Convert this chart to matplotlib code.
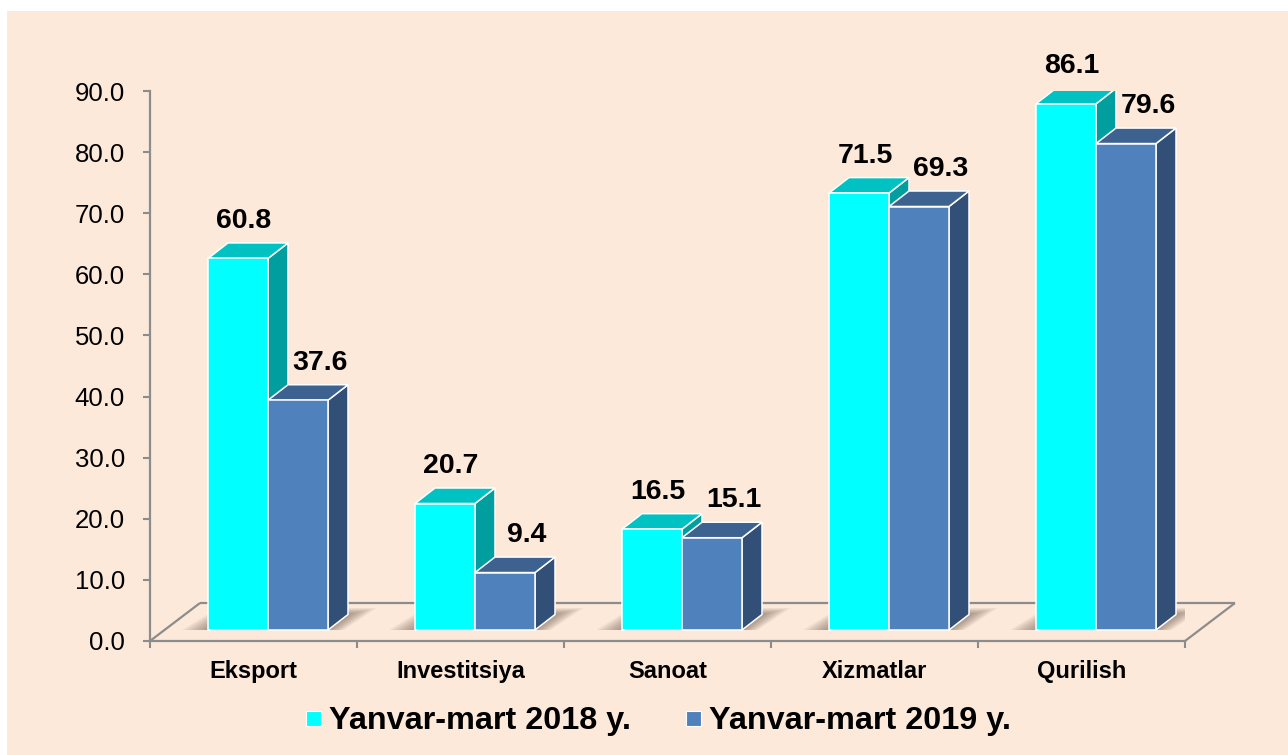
#Pseudo-3D clustered bar chart: Yanvar-mart 2018 vs 2019
import matplotlib
matplotlib.use("Agg")
import matplotlib.pyplot as plt
from matplotlib.patches import Polygon, Rectangle
from matplotlib.lines import Line2D
import numpy as np

categories = ["Eksport", "Investitsiya", "Sanoat", "Xizmatlar", "Qurilish"]
values_2018 = [60.8, 20.7, 16.5, 71.5, 86.1]
values_2019 = [37.6, 9.4, 15.1, 69.3, 79.6]
series_names = ["Yanvar-mart 2018 y.", "Yanvar-mart 2019 y."]
y_ticks = np.arange(0, 91, 10)

plt.rcParams["font.family"] = ["Liberation Sans", "DejaVu Sans"]

W, H = 1288, 755
# pixel frame of the value axes (front plane of the floor)
ax_l, ax_r, ax_b, ax_t = 150, 1185, 641, 91
n = len(categories)
ymax = 90.0
sx = n / (ax_r - ax_l)        # data units per pixel, x
sy = ymax / (ax_b - ax_t)     # data units per pixel, y

# colours: front, top, side
face_2018 = ("#00FFFF", "#00C2C2", "#009E9E")
face_2019 = ("#4F81BD", "#3E6290", "#314F77")
grid_col = "#8C8C8C"
bg_col = "#FDE9DA"

fig = plt.figure(figsize=(W / 100, H / 100), dpi=100, facecolor="white")
fig.patches.append(Rectangle((7 / W, 0), 1 - 7 / W, 1 - 11 / H, transform=fig.transFigure,
                             facecolor=bg_col, edgecolor="none", zorder=-10))

ax = fig.add_axes([ax_l / W, 1 - ax_b / H, (ax_r - ax_l) / W, (ax_b - ax_t) / H])
ax.set_facecolor("none")
ax.set_xlim(-0.5, n - 0.5)
ax.set_ylim(0, ymax)

# depth geometry in pixels, turned into data units
floor_dx, floor_dy = 50 * sx, 38 * sy
off_x, off_y = 14.5 * sx, 11 * sy       # bars sit a bit back on the floor
bar_dx, bar_dy = 20 * sx, 15.5 * sy     # bar depth
bar_w = 60 * sx

# floor outline
fx0, fx1 = -0.5, n - 0.5
for xs, ys in [([fx0 + floor_dx, fx1 + floor_dx], [floor_dy, floor_dy]),
               ([fx0, fx0 + floor_dx], [0, floor_dy]),
               ([fx1, fx1 + floor_dx], [0, floor_dy])]:
    ax.plot(xs, ys, color=grid_col, lw=1.6, clip_on=False, zorder=1, solid_capstyle="butt")


def draw_bar(x0, v, cols):
    x1 = x0 + bar_w
    y0, y1 = off_y, v + off_y
    front = [(x0, y0), (x1, y0), (x1, y1), (x0, y1)]
    top = [(x0, y1), (x1, y1), (x1 + bar_dx, y1 + bar_dy), (x0 + bar_dx, y1 + bar_dy)]
    side = [(x1, y0), (x1 + bar_dx, y0 + bar_dy), (x1 + bar_dx, y1 + bar_dy), (x1, y1)]
    for pts, c in [(side, cols[2]), (top, cols[1]), (front, cols[0])]:
        ax.add_patch(Polygon(pts, closed=True, facecolor=c, edgecolor="white",
                             lw=1.1, joinstyle="miter", zorder=5))


def draw_shadow(x0, x1):
    # soft shadow on the floor around the foot of a bar pair
    y_lo, y_hi = off_y, off_y + bar_dy
    for k in range(1, 11):
        g = k * 2.6
        pts = [(x0 - g * sx, y_lo),
               (x1 + g * 0.6 * sx, y_lo),
               (x1 + bar_dx + g * 1.1 * sx, y_hi + g * 0.25 * sy),
               (x0 + bar_dx - g * 0.4 * sx, y_hi + g * 0.25 * sy)]
        ax.add_patch(Polygon(pts, closed=True, facecolor="#4a3a30", edgecolor="none",
                             alpha=0.055, zorder=2))


centers = np.arange(n)
for i, c in enumerate(centers):
    left = c - bar_w + off_x
    draw_shadow(left, left + 2 * bar_w)
    draw_bar(left, values_2018[i], face_2018)
    draw_bar(left + bar_w, values_2019[i], face_2019)
    ax.annotate(f"{values_2018[i]:.1f}", xy=(left + bar_w / 2, values_2018[i] + off_y + bar_dy),
                xytext=(6 / 1.389, 22 / 1.389), textcoords="offset points",
                ha="center", va="center", fontsize=20.5, fontweight="bold", zorder=6,
                annotation_clip=False)
    ax.annotate(f"{values_2019[i]:.1f}", xy=(left + 1.5 * bar_w, values_2019[i] + off_y + bar_dy),
                xytext=(22 / 1.389, 22 / 1.389), textcoords="offset points",
                ha="center", va="center", fontsize=20.5, fontweight="bold", zorder=6,
                annotation_clip=False)

# axes
for s in ["top", "right"]:
    ax.spines[s].set_visible(False)
for s in ["left", "bottom"]:
    ax.spines[s].set_color(grid_col)
    ax.spines[s].set_linewidth(1.6)
    ax.spines[s].set_zorder(1)
ax.set_yticks(y_ticks)
ax.set_yticklabels([f"{t:.1f}" for t in y_ticks])
ax.tick_params(axis="y", direction="out", length=5, width=1.5, color=grid_col,
               pad=13, labelsize=18.5)
ax.set_xticks(np.arange(n + 1) - 0.5)
ax.set_xticklabels([])
ax.tick_params(axis="x", direction="out", length=5, width=1.5, color=grid_col)
for i, name in enumerate(categories):
    ax.annotate(name, xy=(centers[i], 0), xytext=(0, -31 / 1.389), textcoords="offset points",
                ha="center", va="center", fontsize=17, fontweight="bold", annotation_clip=False)

handles = [Line2D([], [], ls="none", marker="s", markersize=10.8, markerfacecolor=face_2018[0],
                  markeredgecolor="white", markeredgewidth=0.8),
           Line2D([], [], ls="none", marker="s", markersize=10.8, markerfacecolor=face_2019[0],
                  markeredgecolor="white", markeredgewidth=0.8)]
fig.legend(handles, series_names, loc="center", bbox_to_anchor=(657 / W, 1 - 721 / H),
           ncol=2, frameon=False, handlelength=0.6, handletextpad=0.2, columnspacing=1.62,
           prop={"size": 23.3, "weight": "bold"})

fig.savefig("out.png", dpi=100, facecolor=fig.get_facecolor())
